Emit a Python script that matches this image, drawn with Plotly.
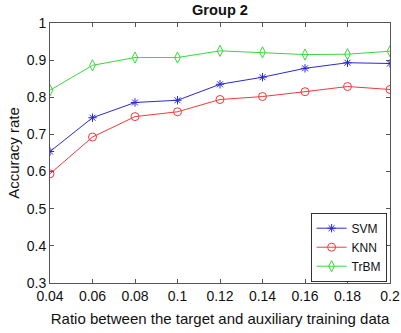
import plotly.graph_objects as go

ratios = [0.04, 0.06, 0.08, 0.10, 0.12, 0.14, 0.16, 0.18, 0.20]
svm = [0.654, 0.745, 0.786, 0.792, 0.835, 0.854, 0.878, 0.893, 0.891]
knn = [0.594, 0.693, 0.748, 0.761, 0.794, 0.802, 0.815, 0.829, 0.821]
trbm = [0.819, 0.886, 0.907, 0.907, 0.925, 0.921, 0.915, 0.916, 0.924]

x_ticks = [0.04, 0.06, 0.08, 0.1, 0.12, 0.14, 0.16, 0.18, 0.2]
x_tick_text = ["0.04", "0.06", "0.08", "0.1", "0.12", "0.14", "0.16", "0.18", "0.2"]
y_ticks = [0.3, 0.4, 0.5, 0.6, 0.7, 0.8, 0.9, 1.0]
y_tick_text = ["0.3", "0.4", "0.5", "0.6", "0.7", "0.8", "0.9", "1"]

series = [
    ("SVM", svm, "#2a2ad4", "asterisk-open", 7),
    ("KNN", knn, "#f03a3a", "circle-open", 8),
    ("TrBM", trbm, "#3ad83a", "diamond-tall-open", 8),
]

fig = go.Figure()
for name, vals, color, symbol, size in series:
    fig.add_trace(go.Scatter(
        x=ratios, y=vals, name=name, mode="lines+markers",
        line=dict(color=color, width=1),
        marker=dict(symbol=symbol, size=size, color=color, line=dict(color=color, width=1)),
    ))

font = "Liberation Sans, Arial, sans-serif"
axis_common = dict(
    showline=True, linecolor="#555555", linewidth=1, mirror="ticks",
    ticks="inside", ticklen=4, tickcolor="#555555", showgrid=False, zeroline=False,
    automargin=False,
    tickfont=dict(family=font, size=14, color="#111111"),
)

fig.update_layout(
    width=401, height=333,
    margin=dict(l=50, r=11, t=23, b=50),
    paper_bgcolor="white", plot_bgcolor="white",
    title=dict(text="<b>Group 2</b>", x=0.5, xref="paper", y=0.985, yanchor="top",
               font=dict(family=font, size=14.6, color="#111111")),
    xaxis=dict(range=[0.04, 0.2], tickvals=x_ticks, ticktext=x_tick_text,
               title=dict(text="Ratio between the target and auxiliary training data",
                          font=dict(family=font, size=15, color="#111111"), standoff=10),
               **axis_common),
    yaxis=dict(range=[0.3, 1.0], tickvals=y_ticks, ticktext=y_tick_text,
               title=dict(text="Accuracy rate", font=dict(family=font, size=15, color="#111111"),
                          standoff=3),
               **axis_common),
    legend=dict(x=0.99, xanchor="right", y=0.005, yanchor="bottom",
                bgcolor="white", bordercolor="#333333", borderwidth=1,
                font=dict(family=font, size=12, color="#111111"),
                itemwidth=30, tracegroupgap=0),
    showlegend=True,
)

fig.write_html("out.html")
